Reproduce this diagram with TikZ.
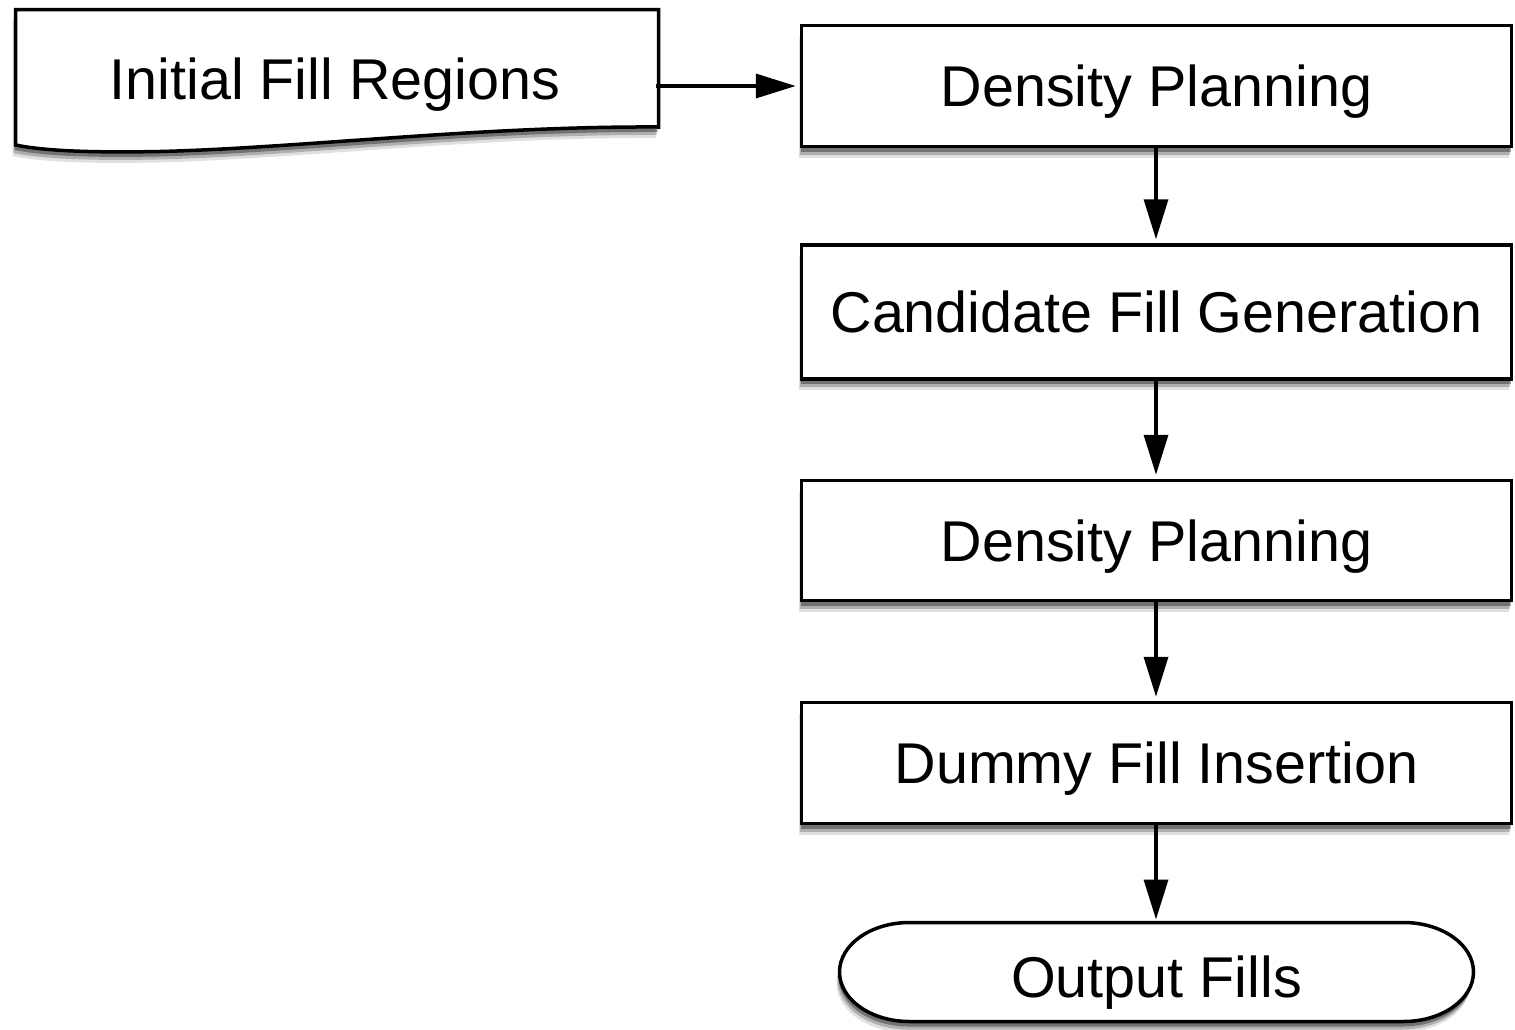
\documentclass[tikz,border=0pt]{standalone}
\usepackage{fontspec}
\setmainfont{Liberation Sans}
\usetikzlibrary{arrows.meta,shadows}
\begin{document}
\begin{tikzpicture}[x=1pt,y=-1pt,
  txt/.style={font=\fontsize{57.5}{62}\selectfont, text height=41pt, text depth=0pt, inner sep=0pt},
  shad/.style={drop shadow={shadow xshift=-3pt, shadow yshift=-11pt, fill=black, opacity=0.12},
               drop shadow={shadow xshift=-2pt, shadow yshift=-8pt, fill=black, opacity=0.22},
               drop shadow={shadow xshift=-1pt, shadow yshift=-5pt, fill=black, opacity=0.35}},
  proc/.style={txt, draw, line width=3.5pt, fill=white, minimum width=710pt, shad},
  arr/.style={-{Triangle[length=40pt,width=24pt]}, line width=3.5pt, shorten >=4pt}]
\useasboundingbox (0,0) rectangle (1515,1029);
% document shape
\path[draw, line width=3.5pt, fill=white, shad, line join=miter]
  (15.5,9.5) -- (658.5,9.5) -- (658.5,127)
  .. controls (480,126) and (300,148) .. (160,151.5)
  .. controls (80,153) and (40,150) .. (15.5,145) -- cycle;
\node[txt] (init) at (335,79) {Initial Fill Regions};
\coordinate (ie) at (656,86);
% process boxes
\node[proc, minimum height=121pt] (dp1) at (1156.5,86) {Density Planning};
\node[proc, minimum height=134pt] (cand) at (1156.5,312) {Candidate Fill Generation};
\node[proc, minimum height=120pt] (dp2) at (1156.5,540.5) {Density Planning};
\node[proc, minimum height=121pt] (dummy) at (1156.5,763) {Dummy Fill Insertion};
% terminal
\path[draw, line width=3.5pt, fill=white, shad]
  (909.5,922.5) -- (1403.5,922.5) arc (-90:90:70 and 49.5)
  -- (909.5,1021.5) arc (90:270:70 and 49.5) -- cycle;
\node[txt, minimum width=634pt, minimum height=99pt] (out) at (1156.5,977) {Output Fills};
% connectors
\draw[arr] (ie) -- (dp1.west);
\draw[arr] (dp1.south -| 1156,0) -- (cand.north -| 1156,0);
\draw[arr] (cand.south -| 1156,0) -- (dp2.north -| 1156,0);
\draw[arr] (dp2.south -| 1156,0) -- (dummy.north -| 1156,0);
\draw[arr, shorten >=3pt] (dummy.south -| 1156,0) -- (1156,922.5);
\end{tikzpicture}
\end{document}
